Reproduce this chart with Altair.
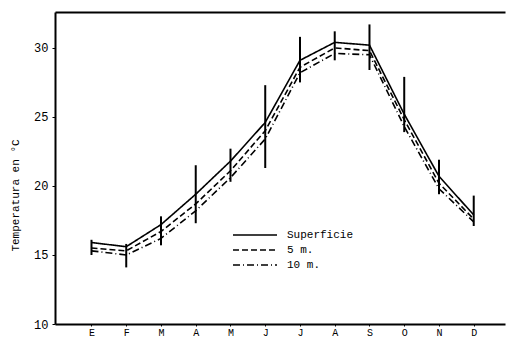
import altair as alt
import pandas as pd

# Monthly sea temperatures (°C) at three depths
months = ["E", "F", "M", "A", "M", "J", "J", "A", "S", "O", "N", "D"]
superficie = [15.9, 15.6, 17.2, 19.4, 21.8, 24.6, 29.1, 30.4, 30.2, 25.2, 20.7, 17.9]
cinco_m = [15.5, 15.3, 16.7, 18.7, 21.1, 24.0, 28.6, 30.0, 29.8, 24.8, 20.2, 17.6]
diez_m = [15.3, 15.0, 16.2, 18.2, 20.6, 23.4, 28.2, 29.6, 29.5, 24.3, 19.8, 17.4]
# Range of variation per month
rango_min = [15.0, 14.1, 15.7, 17.3, 20.3, 21.3, 27.5, 29.1, 28.4, 23.9, 19.4, 17.1]
rango_max = [16.1, 15.8, 17.8, 21.5, 22.7, 27.3, 30.8, 31.2, 31.7, 27.9, 21.9, 19.3]

series_names = ["Superficie", "5 m.", "10 m."]
series_values = [superficie, cinco_m, diez_m]

rows = []
for name, vals in zip(series_names, series_values):
    for i, v in enumerate(vals):
        rows.append({"mes": i, "serie": name, "temp": v})
lines_df = pd.DataFrame(rows)

bars_df = pd.DataFrame({
    "mes": list(range(len(months))),
    "lo": rango_min,
    "hi": rango_max,
})

FONT = "Liberation Mono"
month_js = "[" + ",".join(f"'{m}'" for m in months) + "]"

x_scale = alt.Scale(domain=[-1.05, 11.9], nice=False, zero=False)
y_scale = alt.Scale(domain=[10, 32.6], nice=False, zero=False)

lines = alt.Chart(lines_df).mark_line(color="black", strokeWidth=1.6).encode(
    x=alt.X("mes:Q", scale=x_scale,
            axis=alt.Axis(values=list(range(12)), labelExpr=f"{month_js}[datum.value]",
                          title=None, grid=False, domainWidth=2, domainColor="black",
                          tickColor="black", tickSize=2, labelFont=FONT, labelFontSize=10,
                          labelColor="black", labelPadding=1)),
    y=alt.Y("temp:Q", scale=y_scale,
            axis=alt.Axis(values=[10, 15, 20, 25, 30], title="Temperatura en °C", grid=False,
                          domainWidth=2, domainColor="black", tickColor="black", tickSize=3,
                          labelFont=FONT, labelFontSize=12, labelColor="black", labelPadding=4,
                          titleFont=FONT, titleFontSize=11, titleFontWeight="normal",
                          titleColor="black", titleX=-35, titleY=183)),
    strokeDash=alt.StrokeDash(
        "serie:N",
        scale=alt.Scale(domain=series_names, range=[[1, 0], [6, 3], [7, 3, 1, 3]]),
        legend=alt.Legend(orient="none", legendX=177, legendY=216, title=None,
                          symbolType="stroke", symbolSize=1936, symbolStrokeWidth=1.6,
                          symbolStrokeColor="black", labelFont=FONT, labelFontSize=11,
                          labelColor="black", labelOffset=9, clipHeight=14, rowPadding=1),
    ),
    detail="serie:N",
)

bars = alt.Chart(bars_df).mark_rule(color="black", strokeWidth=2).encode(
    x=alt.X("mes:Q", scale=x_scale,
            axis=alt.Axis(orient="top", labels=False, ticks=False, title=None, grid=False,
                          domainWidth=2, domainColor="black")),
    y=alt.Y("lo:Q", scale=y_scale),
    y2="hi:Q",
)

chart = (
    alt.layer(lines, bars)
    .resolve_axis(x="independent")
    .properties(
        width=450,
        height=312,
        padding={"left": 55, "top": 12, "right": 1, "bottom": 15},
        autosize=alt.AutoSizeParams(type="none"),
        background="white",
    )
    .configure_view(stroke=None)
)

chart.save("out.html", embed_options={"renderer": "svg", "actions": False})
